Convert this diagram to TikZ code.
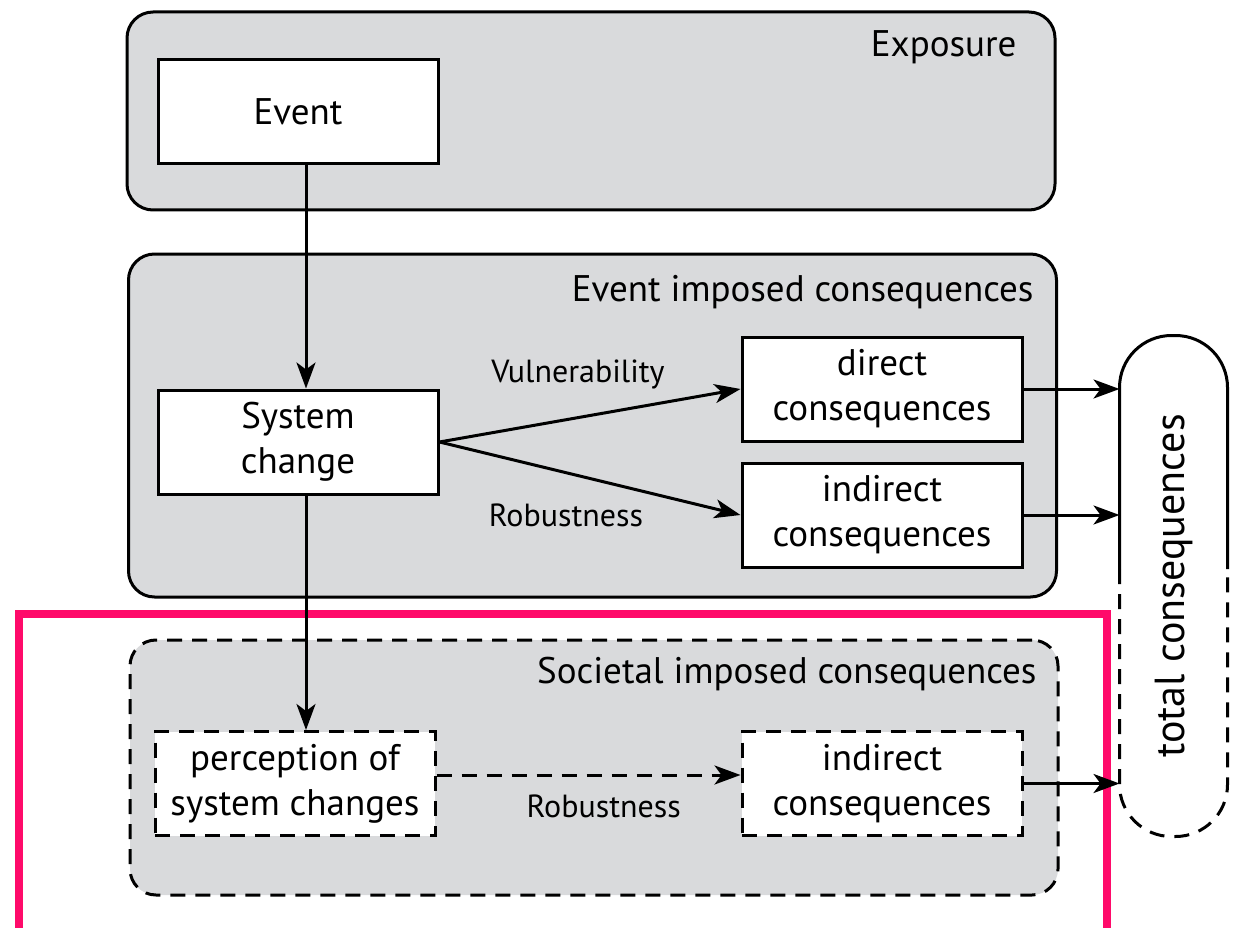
\documentclass[tikz,border=0pt]{standalone}
\usepackage{fontspec}
\setmainfont{PT Sans}
\usetikzlibrary{arrows.meta,positioning}
\definecolor{panelgray}{HTML}{D9DADC}
\definecolor{framepink}{HTML}{FF0A6A}

\begin{document}
\begin{tikzpicture}[x=1pt,y=-1pt,line width=3pt,
        >={Stealth[length=26pt,width=19pt,inset=7pt]}]
        \tikzset{panel/.style={draw,
                fill=panelgray,
                rounded corners=26pt,
                minimum width=928pt,
                inner sep=0pt
            },
            block/.style={draw,
                fill=white,
                shape=rectangle,
                align=center,
                minimum width=280pt,
                minimum height=104pt,
                inner sep=0pt,
                font=\fontsize{37}{45}\selectfont
            },
            dashline/.style={dash pattern=on 15pt off 10pt},
            title/.style={anchor=east, inner sep=0pt,
                font=\fontsize{37}{45}\selectfont},
            tag/.style={inner sep=0pt,
                font=\fontsize{32}{38}\selectfont},
        }
        \useasboundingbox (0,0) rectangle (1234,928);
%% panels
        \node [panel, minimum height=198pt] (exposure) at (591,111) {};
        \node [panel, minimum height=343pt] (imposed) at (592.5,425.5) {};
        \node [panel, dashline, minimum height=255pt] (societal) at (594,767.5) {};
        \node [title] (exposure_t) at (1018,47) {Exposure};
        \node [title] (imposed_t) at (1035,292) {Event imposed consequences};
        \node [title] (societal_t) at (1038,674) {Societal imposed consequences};
%% frame
        \draw [framepink, line width=8pt] (19,940) -- (19,614) -- (1107,614) -- (1107,940);
%% blocks
        \node [block] (event) at (298,112)
            {Event};
        \node [block] (syschange) at (298,442)
            {System\\change};
        \node [block] (direct) at (882,389)
            {direct\\consequences};
        \node [block, below =19pt of direct] (indirect)
            {indirect\\consequences};
        \node [block, dashline] (perception) at (295,783.5)
            {perception of\\system changes};
        \node [block, dashline] (indirect_s) at (882,783.5)
            {indirect\\consequences};
%% total
        \node [minimum width=105pt, minimum height=498pt, inner sep=0pt] (total) at (1173.5,586) {};
        \node [rotate=90, font=\fontsize{42}{48}\selectfont] (total_t) at (total.center) {total consequences};
        \coordinate (split_w) at ([yshift=17pt]total.west);
        \coordinate (split_e) at ([yshift=17pt]total.east);
        \draw [rounded corners=52pt] (split_w) -- (total.north west) -- (total.north east) -- (split_e);
        \draw [dashline, rounded corners=52pt] (split_w) -- (total.south west) -- (total.south east) -- (split_e);
%% paths
\draw [->] (event.south -| 306,0) -- (syschange.north -| 306,0);
\draw [->] (syschange.south -| 306,0) -- (perception.north -| 306,0);
\draw [->] (syschange.east) -- (direct.west)
    node [tag, pos=0.46, above=27pt] (vuln) {Vulnerability};
\draw [->] (syschange.east) -- (indirect.west)
    node [tag, pos=0.42, below=30pt] (robust) {Robustness};
\draw [->, dashline] (perception.east |- 0,775) -- (indirect_s.west |- 0,775)
    node [tag, pos=0.55, below=18pt] (robust_s) {Robustness};
\draw [->] (direct.east) -- (direct.east -| total.west);
\draw [->] (indirect.east) -- (indirect.east -| total.west);
\draw [->] (indirect_s.east) -- (indirect_s.east -| total.west);
\end{tikzpicture}
\end{document}
